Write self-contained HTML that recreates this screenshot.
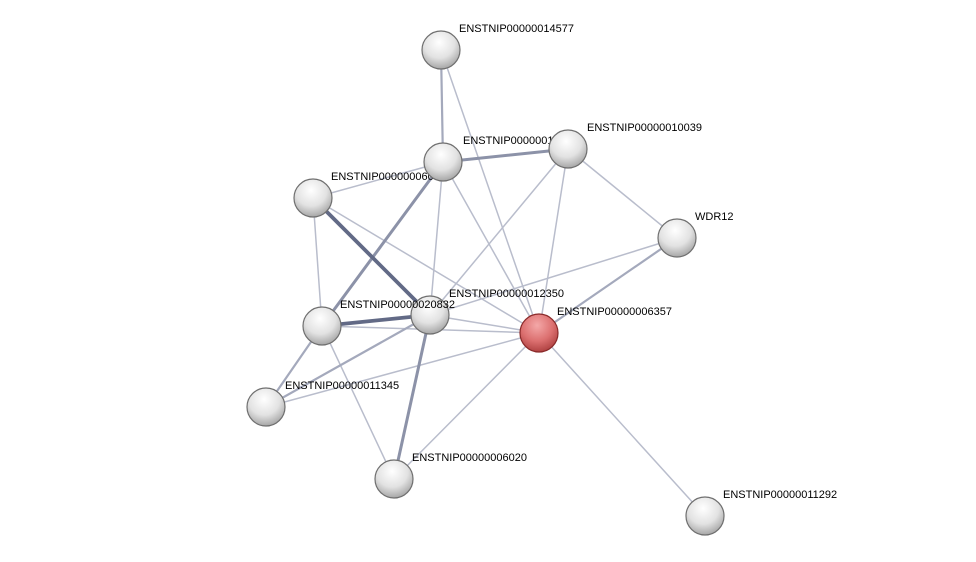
<!DOCTYPE html>
<html><head><style>body{margin:0;background:#fff}svg{display:block}</style></head><body>
<svg width="976" height="562" viewBox="0 0 976 562" xmlns="http://www.w3.org/2000/svg">
<defs>
<radialGradient id="g" cx="0.45" cy="0.3" r="0.75">
<stop offset="0" stop-color="#ffffff"/><stop offset="0.55" stop-color="#e2e2e2"/><stop offset="1" stop-color="#9c9c9c"/></radialGradient>
<radialGradient id="r" cx="0.45" cy="0.3" r="0.75">
<stop offset="0" stop-color="#f4a8a8"/><stop offset="0.55" stop-color="#dc7070"/><stop offset="1" stop-color="#a83a3a"/></radialGradient>
</defs>
<g stroke-linecap="round">
<g stroke="#b9bdcc" stroke-width="1.5">
<line x1="441" y1="50" x2="539" y2="333"/>
<line x1="443" y1="162" x2="313" y2="198"/>
<line x1="443" y1="162" x2="430" y2="315"/>
<line x1="443" y1="162" x2="539" y2="333"/>
<line x1="568" y1="149" x2="430" y2="315"/>
<line x1="568" y1="149" x2="539" y2="333"/>
<line x1="568" y1="149" x2="677" y2="238"/>
<line x1="313" y1="198" x2="539" y2="333"/>
<line x1="313" y1="198" x2="322" y2="326"/>
<line x1="677" y1="238" x2="430" y2="315"/>
<line x1="430" y1="315" x2="539" y2="333"/>
<line x1="322" y1="326" x2="539" y2="333"/>
<line x1="266" y1="407" x2="539" y2="333"/>
<line x1="394" y1="479" x2="539" y2="333"/>
<line x1="705" y1="516" x2="539" y2="333"/>
<line x1="322" y1="326" x2="394" y2="479"/>
</g>
<g stroke="#a4a9bc" stroke-width="2.2">
<line x1="441" y1="50" x2="443" y2="162"/>
<line x1="677" y1="238" x2="539" y2="333"/>
<line x1="322" y1="326" x2="266" y2="407"/>
<line x1="430" y1="315" x2="266" y2="407"/>
</g>
<g stroke="#8c92a8" stroke-width="3">
<line x1="443" y1="162" x2="568" y2="149"/>
<line x1="443" y1="162" x2="322" y2="326"/>
<line x1="430" y1="315" x2="394" y2="479"/>
</g>
<g stroke="#626a86" stroke-width="3.8">
<line x1="313" y1="198" x2="430" y2="315"/>
<line x1="322" y1="326" x2="430" y2="315"/>
</g>
</g>
<g stroke="#6f6f6f" stroke-width="1.2">
<circle cx="441" cy="50" r="19" fill="url(#g)"/>
<circle cx="430" cy="315" r="19" fill="url(#g)"/>
<circle cx="322" cy="326" r="19" fill="url(#g)"/>
<circle cx="266" cy="407" r="19" fill="url(#g)"/>
<circle cx="394" cy="479" r="19" fill="url(#g)"/>
<circle cx="705" cy="516" r="19" fill="url(#g)"/>
<circle cx="677" cy="238" r="19" fill="url(#g)"/>
<circle cx="539" cy="333" r="19" fill="url(#r)" stroke="#8a2a2a"/>
</g>
<g font-family="Liberation Sans, Arial, sans-serif" font-size="11" fill="#000">
<text x="459" y="32">ENSTNIP00000014577</text>
<text x="695" y="220">WDR12</text>
<text x="449" y="297">ENSTNIP00000012350</text>
<text x="340" y="308">ENSTNIP00000020832</text>
<text x="557" y="315">ENSTNIP00000006357</text>
<text x="285" y="389">ENSTNIP00000011345</text>
<text x="412" y="461">ENSTNIP00000006020</text>
<text x="723" y="498">ENSTNIP00000011292</text>
</g>
<circle cx="313" cy="198" r="19" fill="url(#g)" stroke="#6f6f6f" stroke-width="1.2"/>
<text x="331" y="180" font-family="Liberation Sans, Arial, sans-serif" font-size="11">ENSTNIP00000006001</text>
<circle cx="443" cy="162" r="19" fill="url(#g)" stroke="#6f6f6f" stroke-width="1.2"/>
<text x="463" y="144" font-family="Liberation Sans, Arial, sans-serif" font-size="11">ENSTNIP00000010001</text>
<circle cx="568" cy="149" r="19" fill="url(#g)" stroke="#6f6f6f" stroke-width="1.2"/>
<text x="587" y="131" font-family="Liberation Sans, Arial, sans-serif" font-size="11">ENSTNIP00000010039</text>
</svg>
</body></html>
